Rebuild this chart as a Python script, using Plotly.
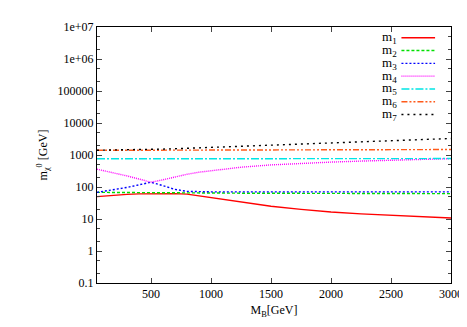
import plotly.graph_objects as go

# M_B [GeV]
mb = [50, 100, 200, 300, 400, 500, 600, 700, 800, 900, 1000,
      1250, 1500, 1750, 2000, 2250, 2500, 2750, 3000]

# masses neutralinos [GeV]
m1 = [50, 52, 56, 59, 61, 62, 62, 62, 60, 53, 47,
      34, 25, 20, 16.5, 14.5, 13, 11.8, 10.7]
m2 = [68, 68, 67, 67, 67, 66, 66, 66, 65, 65, 65,
      64, 64, 63.5, 63, 63, 62.5, 62, 62]
m3 = [68, 73, 83, 97, 117, 141, 110, 84, 73, 71, 70.5,
      70.5, 70.5, 70.5, 70.5, 70.5, 70.5, 70.5, 70.5]
m4 = [360, 330, 270, 222, 177, 141, 168, 210, 250, 290, 325,
      415, 490, 550, 600, 645, 690, 730, 770]
m5 = [760, 760, 761, 762, 762, 763, 764, 764, 765, 765, 766,
      767, 768, 769, 770, 771, 772, 773, 774]
m6 = [1400, 1401, 1404, 1407, 1410, 1413, 1416, 1419, 1422, 1425, 1428,
      1435, 1442, 1449, 1456, 1463, 1470, 1476, 1482]
m7 = [1410, 1415, 1425, 1435, 1455, 1490, 1530, 1570, 1620, 1670, 1720,
      1880, 2060, 2250, 2440, 2650, 2860, 3070, 3280]

nomes = ["m<sub>1</sub>", "m<sub>2</sub>", "m<sub>3</sub>", "m<sub>4</sub>",
         "m<sub>5</sub>", "m<sub>6</sub>", "m<sub>7</sub>"]
series = [m1, m2, m3, m4, m5, m6, m7]

# estilos tipo gnuplot
estilos = [
    dict(color="#ff0000", width=1.4, dash="solid"),
    dict(color="#00e000", width=1.4, dash="3px,2px"),
    dict(color="#0000ff", width=1.4, dash="2px,2px"),
    dict(color="#ff00ff", width=1.4, dash="1px,1px"),
    dict(color="#00e5e5", width=1.4, dash="8px,2px,2px,2px"),
    dict(color="#ff5a1a", width=1.4, dash="6px,2px,2px,2px,2px,2px"),
    dict(color="#000000", width=1.4, dash="2px,4px"),
]

fig = go.Figure()
for nome, ys, est in zip(nomes, series, estilos):
    fig.add_trace(go.Scatter(x=mb, y=ys, mode="lines", name=nome,
                             line=est, showlegend=False))

# legenda manual (texto à esquerda, amostra à direita, como no gnuplot)
for i, (nome, est) in enumerate(zip(nomes, estilos)):
    yp = 0.958 - i * 0.05
    fig.add_annotation(x=0.852, y=yp, xref="paper", yref="paper",
                       text=nome, showarrow=False, xanchor="right",
                       yanchor="middle", font=dict(size=13))
    fig.add_shape(type="line", xref="paper", yref="paper",
                  x0=0.86, x1=0.955, y0=yp, y1=yp, line=est)

ytick_vals = [0.1, 1, 10, 100, 1000, 10000, 100000, 1e6, 1e7]
ytick_text = ["0.1", "1", "10", "100", "1000", "10000", "100000", "1e+06", "1e+07"]

fig.update_layout(
    width=467, height=327,
    margin=dict(l=89, r=22, t=15, b=52),
    paper_bgcolor="white", plot_bgcolor="white",
    font=dict(family="Liberation Serif", size=12, color="black"),
    xaxis=dict(
        range=[50, 3000], tickvals=[500, 1000, 1500, 2000, 2500, 3000],
        ticks="inside", ticklen=5, mirror="ticks", showline=True,
        linecolor="black", linewidth=1, showgrid=False, zeroline=False,
        title=dict(text="M<sub>B</sub>[GeV]", font=dict(size=12), standoff=5),
    ),
    yaxis=dict(
        type="log", range=[-1, 7], tickvals=ytick_vals, ticktext=ytick_text,
        ticks="inside", ticklen=5, mirror="ticks", showline=True,
        linecolor="black", linewidth=1, showgrid=False, zeroline=False,
        minor=dict(ticks="inside", ticklen=3, dtick="D2", showgrid=False),
        title=dict(text="m<sub>χ</sub><sup>0</sup> [GeV]", font=dict(size=12), standoff=7),
    ),
)

fig.write_html("out.html")
